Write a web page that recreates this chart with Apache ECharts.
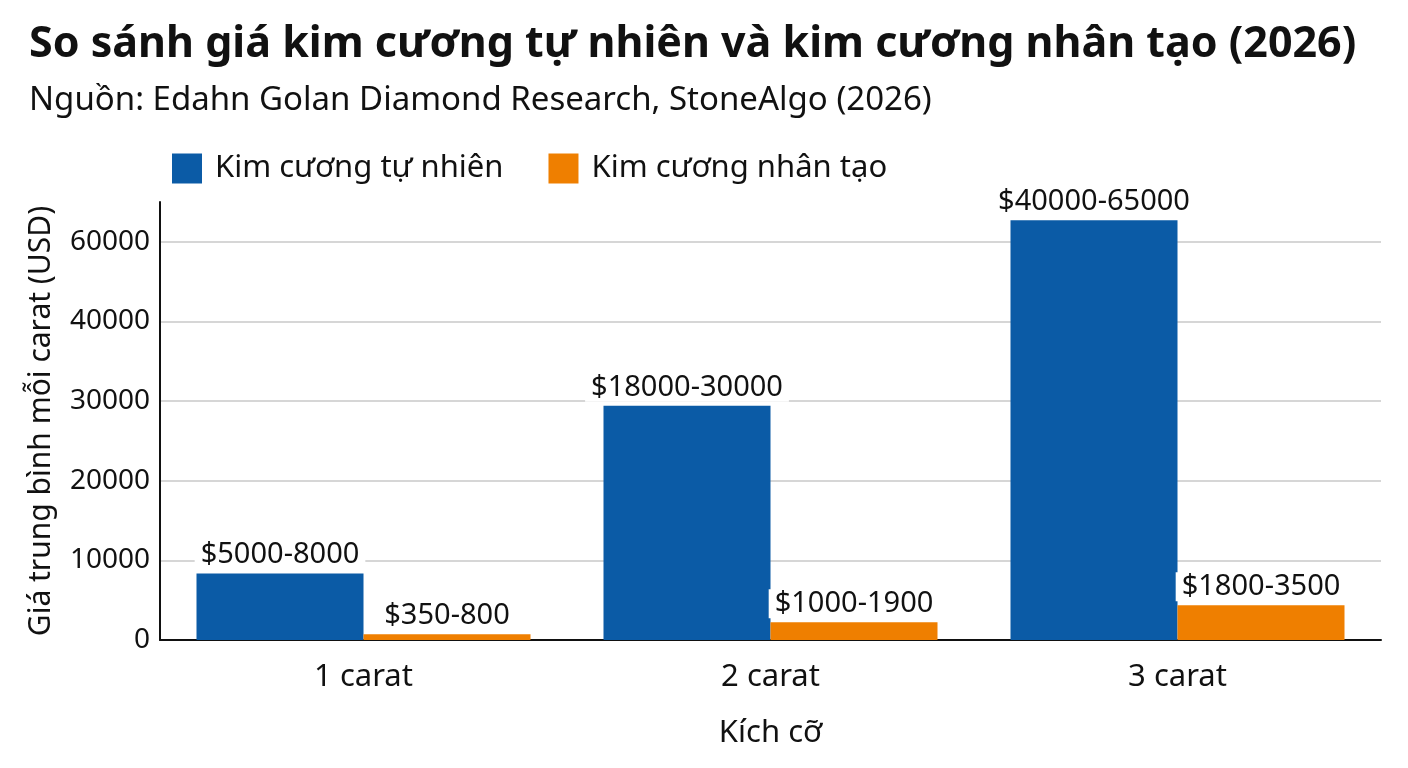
<!DOCTYPE html>
<html>
<head>
<meta charset="utf-8">
<style>
html,body{margin:0;padding:0;background:#fff;}
#chart{width:1408px;height:768px;}
</style>
<script src="https://cdn.jsdelivr.net/npm/echarts@6/dist/echarts.min.js"></script>
</head>
<body>
<div id="chart"></div>
<script>
const categories = ['1 carat', '2 carat', '3 carat'];
const seriesNames = ['Kim cương tự nhiên', 'Kim cương nhân tạo'];
const naturalValues = [8350, 29400, 52700];
const labGrownValues = [720, 2220, 4360];
const naturalLabels = ['$5000-8000', '$18000-30000', '$40000-65000'];
const labGrownLabels = ['$350-800', '$1000-1900', '$1800-3500'];
const tickValues = [0, 10000, 20000, 30000, 40000, 50000];
const tickLabels = ['0', '10000', '20000', '30000', '40000', '60000'];

const FONT = '"Noto Sans", "Open Sans", sans-serif';
const chart = echarts.init(document.getElementById('chart'), null, {renderer: 'canvas'});

const labelStyle = (labels) => ({
  show: true,
  position: 'top',
  distance: 4,
  formatter: (p) => labels[p.dataIndex],
  fontFamily: FONT,
  fontSize: 29,
  color: '#111',
  backgroundColor: '#fff',
  padding: [0, 6, 0, 6]
});

chart.setOption({
  animation: false,
  backgroundColor: '#fff',
  title: [
    {
      text: 'So sánh giá kim cương tự nhiên và kim cương nhân tạo (2026)',
      left: 24, top: 18,
      textStyle: {fontFamily: FONT, fontSize: 43, fontWeight: 'bold', color: '#111'}
    },
    {
      text: 'Nguồn: Edahn Golan Diamond Research, StoneAlgo (2026)',
      left: 24, top: 79,
      textStyle: {fontFamily: FONT, fontSize: 33, fontWeight: 'normal', color: '#111'}
    }
  ],
  legend: {
    data: seriesNames,
    left: 167, top: 148,
    itemWidth: 30, itemHeight: 30, itemGap: 45,
    icon: 'rect',
    textStyle: {fontFamily: FONT, fontSize: 31, color: '#111', padding: [0, 0, 0, 8]}
  },
  grid: {left: 160, right: 27, top: 202, bottom: 128, containLabel: false},
  xAxis: {
    type: 'category',
    data: categories,
    name: 'Kích cỡ',
    nameLocation: 'middle',
    nameGap: 78,
    nameTextStyle: {fontFamily: FONT, fontSize: 31, color: '#111'},
    axisLine: {show: true, lineStyle: {color: '#111', width: 2}},
    axisTick: {show: false},
    axisLabel: {fontFamily: FONT, fontSize: 31, color: '#111', margin: 22}
  },
  yAxis: {
    type: 'value',
    min: 0, max: 55000, interval: 10000,
    name: 'Giá trung bình mỗi carat (USD)',
    nameLocation: 'middle',
    nameGap: 104,
    nameTextStyle: {fontFamily: FONT, fontSize: 30, color: '#111'},
    axisLine: {show: true, lineStyle: {color: '#111', width: 2}},
    axisTick: {show: false, customValues: tickValues},
    axisLabel: {
      customValues: tickValues,
      fontFamily: FONT, fontSize: 28, color: '#111', margin: 10,
      formatter: (v) => tickLabels[tickValues.indexOf(v)]
    },
    splitLine: {show: true, lineStyle: {color: '#c8c8c8', width: 1.5}}
  },
  series: [
    {
      name: seriesNames[0], type: 'bar', data: naturalValues,
      barWidth: 167, barGap: '0%',
      itemStyle: {color: '#0b5ba6'},
      label: labelStyle(naturalLabels)
    },
    {
      name: seriesNames[1], type: 'bar', data: labGrownValues,
      barWidth: 167, barGap: '0%',
      itemStyle: {color: '#ef7f00'},
      label: labelStyle(labGrownLabels)
    }
  ]
});
</script>
</body>
</html>
